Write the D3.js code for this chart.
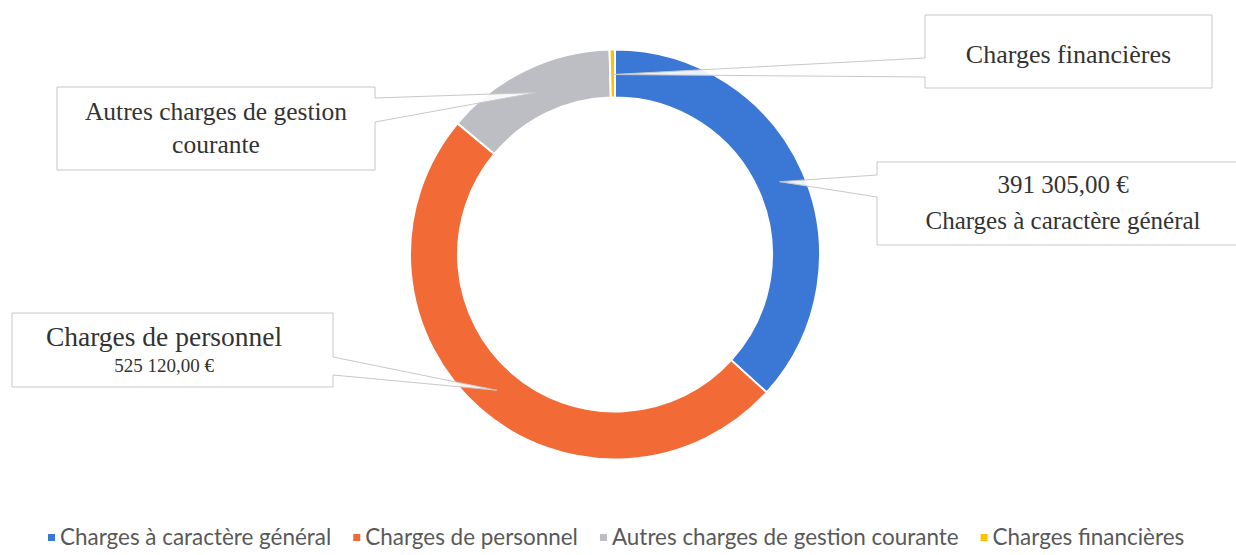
<!DOCTYPE html>
<html>
<head>
<meta charset="utf-8">
<script src="https://cdn.jsdelivr.net/npm/d3@7"></script>
<style>
  body { margin: 0; background: #fff; }
  svg { display: block; }
</style>
</head>
<body>
<div id="chart"></div>
<script>
"use strict";

// data
var categories = ["Charges à caractère général", "Charges de personnel", "Autres charges de gestion courante", "Charges financières"];
var values = [391305, 525120, 144000, 4500];
var colors = ["#3b78d6", "#f26a36", "#bdbdc4", "#ffc000"];
// callout text, one array of lines per slice
var labelLines = [
  ["391 305,00 €", "Charges à caractère général"],
  ["Charges de personnel", "525 120,00 €"],
  ["Autres charges de gestion", "courante"],
  ["Charges financières"]
];

var width = 1236, height = 555;
var cx = 615, cy = 254.5;
var outerR = 205, innerR = 157;

// callout boxes: x, y, w, h, side of the pointer, pointer start/end along that side
var boxes = [
  { x: 877, y: 162, w: 380, h: 83, tx: 186, side: "left", a: 13, b: 35, lines: [{ y: 22, size: 25 }, { y: 58, size: 25 }] },
  { x: 12, y: 313, w: 321, h: 74, tx: 152, side: "right", a: 44, b: 62, lines: [{ y: 23, size: 27.5 }, { y: 52, size: 19 }] },
  { x: 57, y: 87, w: 318, h: 83, tx: 159, side: "right", a: 11, b: 35, lines: [{ y: 24, size: 25.5 }, { y: 57, size: 25.5 }] },
  { x: 925, y: 15, w: 287, h: 73, tx: 143.5, side: "left", a: 43, b: 62, lines: [{ y: 39, size: 26 }] }
];

var svg = d3.select("#chart")
  .append("svg")
  .attr("width", width)
  .attr("height", height);

var pie = d3.pie().sort(null).value(function(d) { return d; });
var arcs = pie(values);

var arc = d3.arc().innerRadius(innerR).outerRadius(outerR);
var tipArc = d3.arc().innerRadius(155).outerRadius(205);

var ring = svg.append("g").attr("transform", "translate(" + cx + "," + cy + ")");
ring.selectAll("path")
  .data(arcs)
  .enter()
  .append("path")
    .attr("d", arc)
    .attr("fill", function(d, i) { return colors[i]; })
    .attr("stroke", "#fff")
    .attr("stroke-width", 2);

// callouts
function calloutPath(b, tip) {
  var x = b.x, y = b.y, w = b.w, h = b.h;
  if (b.side === "left") {
    return "M" + x + "," + y + "H" + (x + w) + "V" + (y + h) + "H" + x +
      "V" + (y + b.b) + "L" + tip[0] + "," + tip[1] + "L" + x + "," + (y + b.a) + "Z";
  }
  return "M" + x + "," + y + "H" + (x + w) + "V" + (y + b.a) +
    "L" + tip[0] + "," + tip[1] + "L" + (x + w) + "," + (y + b.b) + "V" + (y + h) + "H" + x + "Z";
}

var callouts = svg.append("g").attr("class", "callouts");
arcs.forEach(function(d, i) {
  var b = boxes[i];
  var c = tipArc.centroid(d);
  var tip = [cx + c[0], cy + c[1]];
  var g = callouts.append("g");
  g.append("path")
    .attr("d", calloutPath(b, tip))
    .attr("fill", "#fff")
    .attr("fill-opacity", 0.9)
    .attr("stroke", "#c8c8c8")
    .attr("stroke-width", 1);
  labelLines[i].forEach(function(line, j) {
    g.append("text")
      .attr("x", b.x + b.tx)
      .attr("y", b.y + b.lines[j].y)
      .attr("dy", "0.35em")
      .attr("text-anchor", "middle")
      .attr("font-family", "'Liberation Serif', 'DejaVu Serif', serif")
      .attr("font-size", b.lines[j].size)
      .attr("fill", "#333")
      .text(line);
  });
});

// legend, fitted to the width it takes in the original
var legendLeft = 48, legendRight = 1185;
var markerGap = 12, itemGap = 22;
var legend = svg.append("g").attr("class", "legend");
var items = legend.selectAll("g")
  .data(categories)
  .enter()
  .append("g");
items.append("rect")
  .attr("width", 7)
  .attr("height", 7)
  .attr("y", -4)
  .attr("fill", function(d, i) { return colors[i]; });
var texts = items.append("text")
  .attr("x", markerGap)
  .attr("dy", "0.32em")
  .attr("font-family", "Lato, 'Open Sans', sans-serif")
  .attr("font-size", 19)
  .attr("fill", "#595959")
  .text(function(d) { return d; });

var textTotal = 0;
texts.each(function() { textTotal += this.getComputedTextLength(); });
var room = (legendRight - legendLeft) - categories.length * markerGap - (categories.length - 1) * itemGap;
texts.attr("font-size", 19 * room / textTotal);

var offsets = [], pos = legendLeft;
texts.each(function() {
  offsets.push(pos);
  pos += markerGap + this.getComputedTextLength() + itemGap;
});
items.attr("transform", function(d, i) {
  return "translate(" + offsets[i] + ",538)";
});
</script>
</body>
</html>
